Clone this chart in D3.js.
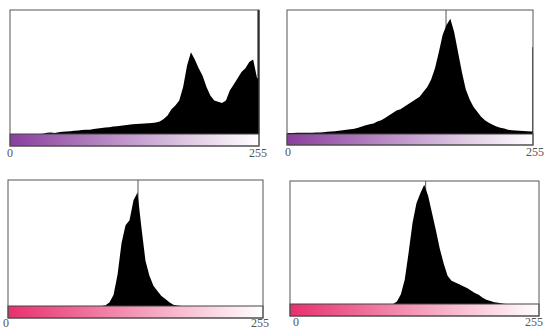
<!DOCTYPE html>
<html>
<head>
<meta charset="utf-8">
<script src="https://cdn.jsdelivr.net/npm/d3@7"></script>
<style>
  body { margin: 0; background: #fff; }
  svg { display: block; }
</style>
</head>
<body>
<div id="chart"></div>
<script>
// 64 bins of 4 grey levels each, height in % of plot height
var histA = [0,0,0,0,0,0,0,0,0.3,1,1.2,0.8,1.5,1.8,2,2.3,
  2.6,2.8,3.2,3.4,3.5,4,4.5,4.8,5.2,5.5,6,6.3,6.6,7,7.4,7.8,
  8,8.3,8.5,8.7,8.9,9.2,10,12,15,20,23,27,38,55,66,60,
  53,47,38,31,27,26,25,27,35,40,45,50,53,58,60,45];
var histB = [0.8,0.8,1,1,1,1,1,1.2,1.2,1.5,1.8,2,2.3,2.6,3,3.4,
  3.8,4.2,5,6,7,7.8,8.5,10,11,13,15,17,19,20,22,24,
  26,28,30,34,38,44,53,66,80,88,93,82,66,50,36,28,
  22,18,14,11,9,7.5,6,5,4.5,3.5,3,2.8,2.6,2.4,2.2,2];
var histC = [0,0,0,0,0,0,0,0,0,0,0,0,0,0,0,0,
  0,0,0,0,0,0,0,0,0.5,3,9,25,50,64,68,84,
  90,62,36,24,16,12,8,5.5,3,1,0.3,0,0,0,0,0,
  0,0,0,0,0,0,0,0,0,0,0,0,0,0,0,0];
var histD = [0,0,0,0,0,0,0,0,0,0,0,0,0,0,0,0,
  0,0,0,0,0,0,0,0,0,0,0,2,8,20,42,66,
  82,90,97,88,74,60,45,33,23,19,17.5,16,14.5,13,11,9,
  7.5,5,3.5,2.5,1.5,1,0.5,0,0,0,0,0,0,0,0,0];
// thin peaks that run past the shown bins: [level, height %]
var spikesA = [[255, 100]];
var spikesB = [[165, 100], [255, 70]];
var spikesC = [[130, 100]];
var spikesD = [[139, 100]];
var axisLabels = ["0", "255"];
var levelsMax = 256;
var binWidth = 4;

var purple = "#8a3e9e", pink = "#e8306e";

var panels = [
  { hist: histA, spikes: spikesA, color: purple, left: 10, right: 259, top: 10, base: 134, bar: 146, lab0: 10, lab1: 258, laby: 157 },
  { hist: histB, spikes: spikesB, color: purple, left: 287, right: 533, top: 10, base: 134, bar: 145, lab0: 288, lab1: 535, laby: 156 },
  { hist: histC, spikes: spikesC, color: pink, left: 8, right: 263, top: 180, base: 306, bar: 318, lab0: 6, lab1: 260, laby: 327 },
  { hist: histD, spikes: spikesD, color: pink, left: 290, right: 539, top: 181, base: 304, bar: 316, lab0: 296, lab1: 534, laby: 326 }
];

var svg = d3.select("#chart").append("svg")
  .attr("width", 546)
  .attr("height", 330);

var defs = svg.append("defs");

panels.forEach(function(p, k) {
  var x = d3.scaleLinear().domain([0, levelsMax]).range([p.left, p.right]);
  var y = d3.scaleLinear().domain([0, 100]).range([p.base, p.top]).clamp(true);

  var g = svg.append("g").attr("class", "panel");

  // spikes go underneath so only the part above the fill shows grey
  g.selectAll("line.spike")
    .data(p.spikes)
    .enter().append("line")
      .attr("class", "spike")
      .attr("x1", function(d) { return x(d[0] + 0.5); })
      .attr("x2", function(d) { return x(d[0] + 0.5); })
      .attr("y1", p.base)
      .attr("y2", function(d) { return y(d[1]); })
      .attr("stroke", function(d) { return d[0] === 255 && k === 0 ? "#000" : "#555"; })
      .attr("stroke-width", function(d) { return d[0] === 255 && k === 0 ? 2 : 1; });

  // histogram as one filled shape through the bin centres
  var pts = p.hist.map(function(d, i) { return [i * binWidth + binWidth / 2, d]; });
  pts.unshift([0, p.hist[0]]);
  pts.push([levelsMax, p.hist[p.hist.length - 1]]);

  var area = d3.area()
    .x(function(d) { return x(d[0]); })
    .y0(p.base)
    .y1(function(d) { return y(d[1]); });

  g.append("path")
    .datum(pts)
    .attr("class", "hist")
    .attr("d", area)
    .attr("fill", "#000");

  // gradient bar
  var gid = "grad" + k;
  var grad = defs.append("linearGradient").attr("id", gid);
  grad.append("stop").attr("offset", "0%").attr("stop-color", p.color);
  grad.append("stop").attr("offset", "100%").attr("stop-color", "#fff");

  g.append("rect")
    .attr("x", p.left)
    .attr("y", p.base)
    .attr("width", p.right - p.left)
    .attr("height", p.bar - p.base)
    .attr("fill", "url(#" + gid + ")")
    .attr("stroke", "#444")
    .attr("stroke-width", 1);

  // frame
  g.append("rect")
    .attr("x", p.left)
    .attr("y", p.top)
    .attr("width", p.right - p.left)
    .attr("height", p.bar - p.top)
    .attr("fill", "none")
    .attr("stroke", "#555")
    .attr("stroke-width", 1);

  g.selectAll("text.lab")
    .data(axisLabels)
    .enter().append("text")
      .attr("class", "lab")
      .attr("x", function(d, i) { return i === 0 ? p.lab0 : p.lab1; })
      .attr("y", p.laby)
      .attr("text-anchor", "middle")
      .style("font", "12px 'Liberation Serif', serif")
      .attr("fill", "#555")
      .text(function(d) { return d; });
});
</script>
</body>
</html>
